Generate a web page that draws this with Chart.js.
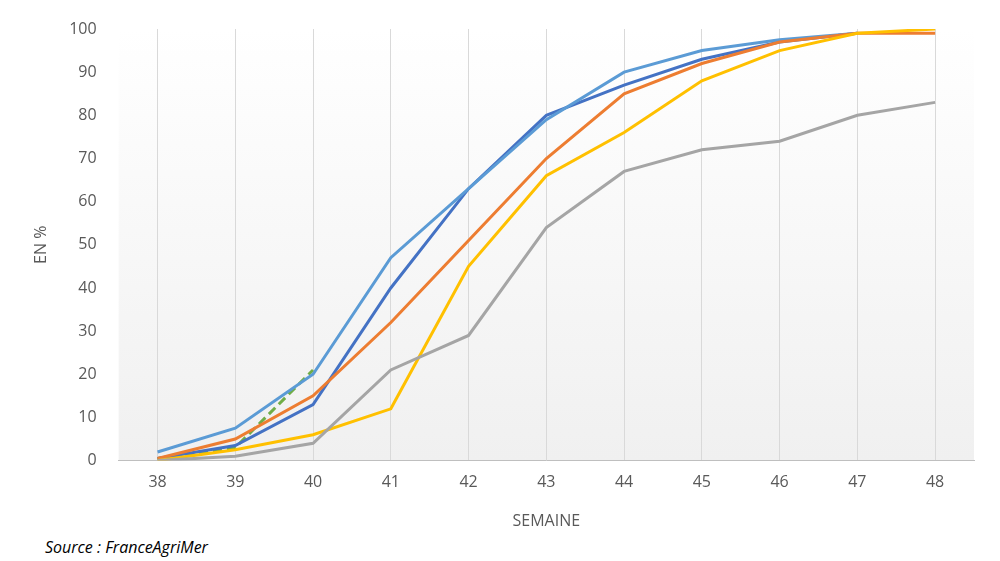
<!DOCTYPE html>
<html>
<head>
<meta charset="utf-8">
<script src="https://cdn.jsdelivr.net/npm/chart.js@4"></script>
<style>
  body { margin: 0; background: #fff; font-family: "Open Sans", sans-serif; }
  #wrap { position: relative; width: 1000px; height: 561px; }
  #source { position: absolute; left: 45px; top: 536px; font-style: italic; font-size: 16px; color: #000; }
</style>
</head>
<body>
<div id="wrap">
  <canvas id="chart" width="1000" height="535"></canvas>
  <div id="source">Source : FranceAgriMer</div>
</div>
<script>
// Weeks and series values (percent)
const weeks = ['38', '39', '40', '41', '42', '43', '44', '45', '46', '47', '48'];
const lightBlue = [2, 7.5, 20, 47, 63, 79, 90, 95, 97.5, 99, null];
const darkBlue = [0.5, 3.5, 13, 40, 63, 80, 87, 93, 97, 99, null];
const orange = [0.5, 5, 15, 32, 51, 70, 85, 92, 97, 99, 99];
const yellow = [0, 2.5, 6, 12, 45, 66, 76, 88, 95, 99, 100];
const gray = [0, 1, 4, 21, 29, 54, 67, 72, 74, 80, 83];
const green = [0.5, 3, 21, null, null, null, null, null, null, null, null];

const bgGradient = {
    id: 'bgGradient',
    beforeDraw(chart) {
        const { ctx, chartArea: a } = chart;
        const g = ctx.createLinearGradient(0, a.top, 0, a.bottom);
        g.addColorStop(0, '#ffffff');
        g.addColorStop(1, '#f0f0f0');
        ctx.save();
        ctx.fillStyle = g;
        ctx.fillRect(a.left, a.top, a.right - a.left, a.bottom - a.top);
        ctx.restore();
    }
};

const line = (data, color, extra) => Object.assign({
    data, borderColor: color, borderWidth: 3, pointRadius: 0, tension: 0, fill: false
}, extra || {});

new Chart(document.getElementById('chart'), {
    type: 'line',
    data: {
        labels: weeks,
        datasets: [
            line(gray, '#a5a5a5'),
            line(yellow, '#ffc000'),
            line(orange, '#ed7d31'),
            line(lightBlue, '#5b9bd5'),
            line(darkBlue, '#4472c4'),
            line(green, '#70ad47', { borderDash: [9, 5] })
        ]
    },
    plugins: [bgGradient],
    options: {
        responsive: false,
        animation: false,
        layout: { padding: { left: 28, right: 26, top: 29, bottom: 0 } },
        plugins: { legend: { display: false }, tooltip: { enabled: false } },
        scales: {
            x: {
                offset: true,
                grid: { offset: false, color: '#d9d9d9', drawTicks: false },
                border: { color: '#bfbfbf' },
                ticks: { color: '#595959', font: { size: 16, family: 'Open Sans' }, padding: 12 },
                title: { display: true, text: 'SEMAINE', color: '#595959', font: { size: 16, family: 'Open Sans' }, padding: { top: 8 } }
            },
            y: {
                min: 0, max: 100,
                grid: { display: false },
                border: { display: false },
                ticks: { stepSize: 10, color: '#595959', font: { size: 16, family: 'Open Sans' }, padding: 14 },
                title: { display: true, text: 'EN %', color: '#595959', font: { size: 16, family: 'Open Sans' } }
            }
        }
    }
});
</script>
</body>
</html>
